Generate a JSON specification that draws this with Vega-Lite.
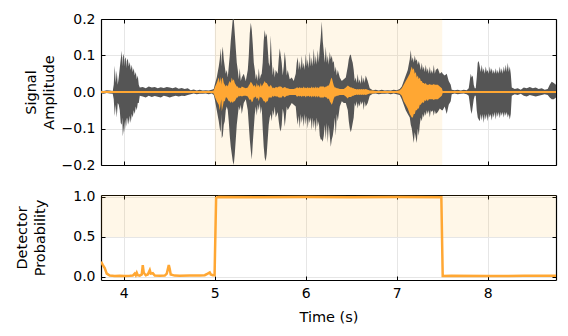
{
 "$schema": "https://vega.github.io/schema/vega-lite/v6.json",
 "padding": {"left": 14, "top": 12, "right": 10, "bottom": 5},
 "background": "white",
 "config": {
  "font": "DejaVu Sans",
  "view": {"stroke": null},
  "axis": {"labelFont": "DejaVu Sans", "labelFontSize": 14, "labelColor": "black", "titleFont": "DejaVu Sans", "titleFontSize": 14.5, "titleFontWeight": "normal", "titleColor": "black", "tickColor": "black", "tickSize": -4, "tickWidth": 1, "domain": true, "domainColor": "black", "domainWidth": 1.2, "gridColor": "#e6e6e6", "gridWidth": 1, "labelPadding": 10, "titleLineHeight": 18}
 },
 "spacing": 17,
 "datasets": {
  "wave": [
   {"t":3.75,"hi":0.004,"lo":-0.004,"oh":0.0025,"ol":-0.0025},
   {"t":3.78,"hi":0.003,"lo":-0.005,"oh":0.0025,"ol":-0.0025},
   {"t":3.813,"hi":0.005,"lo":-0.003,"oh":0.0025,"ol":-0.0025},
   {"t":3.846,"hi":0.004,"lo":-0.004,"oh":0.0025,"ol":-0.0025},
   {"t":3.879,"hi":0.003,"lo":-0.005,"oh":0.0025,"ol":-0.0025},
   {"t":3.89,"hi":0.02,"lo":-0.02,"oh":0.0025,"ol":-0.0025},
   {"t":3.901,"hi":0.072,"lo":-0.066,"oh":0.0025,"ol":-0.0025},
   {"t":3.912,"hi":0.025,"lo":-0.035,"oh":0.0025,"ol":-0.0025},
   {"t":3.923,"hi":0.058,"lo":-0.07,"oh":0.0025,"ol":-0.0025},
   {"t":3.934,"hi":0.02,"lo":-0.03,"oh":0.0025,"ol":-0.0025},
   {"t":3.945,"hi":0.04,"lo":-0.035,"oh":0.0025,"ol":-0.0025},
   {"t":3.956,"hi":0.065,"lo":-0.05,"oh":0.0025,"ol":-0.0025},
   {"t":3.967,"hi":0.09,"lo":-0.085,"oh":0.0025,"ol":-0.0025},
   {"t":3.978,"hi":0.113,"lo":-0.09,"oh":0.0025,"ol":-0.0025},
   {"t":3.984,"hi":0.07,"lo":-0.07,"oh":0.0025,"ol":-0.0025},
   {"t":3.989,"hi":0.095,"lo":-0.122,"oh":0.0025,"ol":-0.0025},
   {"t":4.0,"hi":0.105,"lo":-0.1,"oh":0.0025,"ol":-0.0025},
   {"t":4.006,"hi":0.07,"lo":-0.08,"oh":0.0025,"ol":-0.0025},
   {"t":4.011,"hi":0.09,"lo":-0.11,"oh":0.0025,"ol":-0.0025},
   {"t":4.022,"hi":0.095,"lo":-0.08,"oh":0.0025,"ol":-0.0025},
   {"t":4.028,"hi":0.065,"lo":-0.07,"oh":0.0025,"ol":-0.0025},
   {"t":4.033,"hi":0.085,"lo":-0.095,"oh":0.0025,"ol":-0.0025},
   {"t":4.044,"hi":0.092,"lo":-0.07,"oh":0.0025,"ol":-0.0025},
   {"t":4.055,"hi":0.07,"lo":-0.09,"oh":0.0025,"ol":-0.0025},
   {"t":4.066,"hi":0.082,"lo":-0.065,"oh":0.0025,"ol":-0.0025},
   {"t":4.077,"hi":0.06,"lo":-0.085,"oh":0.0025,"ol":-0.0025},
   {"t":4.088,"hi":0.075,"lo":-0.06,"oh":0.0025,"ol":-0.0025},
   {"t":4.099,"hi":0.055,"lo":-0.07,"oh":0.0025,"ol":-0.0025},
   {"t":4.11,"hi":0.065,"lo":-0.05,"oh":0.0025,"ol":-0.0025},
   {"t":4.121,"hi":0.045,"lo":-0.06,"oh":0.0025,"ol":-0.0025},
   {"t":4.132,"hi":0.055,"lo":-0.04,"oh":0.0025,"ol":-0.0025},
   {"t":4.143,"hi":0.035,"lo":-0.05,"oh":0.0025,"ol":-0.0025},
   {"t":4.154,"hi":0.045,"lo":-0.03,"oh":0.0025,"ol":-0.0025},
   {"t":4.165,"hi":0.02,"lo":-0.03,"oh":0.0025,"ol":-0.0025},
   {"t":4.176,"hi":0.012,"lo":-0.01,"oh":0.0025,"ol":-0.0025},
   {"t":4.209,"hi":0.014,"lo":-0.012,"oh":0.0025,"ol":-0.0025},
   {"t":4.242,"hi":0.01,"lo":-0.015,"oh":0.0025,"ol":-0.0025},
   {"t":4.275,"hi":0.015,"lo":-0.01,"oh":0.0025,"ol":-0.0025},
   {"t":4.308,"hi":0.012,"lo":-0.014,"oh":0.0025,"ol":-0.0025},
   {"t":4.341,"hi":0.014,"lo":-0.011,"oh":0.0025,"ol":-0.0025},
   {"t":4.374,"hi":0.01,"lo":-0.013,"oh":0.0025,"ol":-0.0025},
   {"t":4.407,"hi":0.013,"lo":-0.015,"oh":0.0025,"ol":-0.0025},
   {"t":4.44,"hi":0.011,"lo":-0.01,"oh":0.0025,"ol":-0.0025},
   {"t":4.473,"hi":0.014,"lo":-0.012,"oh":0.0025,"ol":-0.0025},
   {"t":4.505,"hi":0.012,"lo":-0.015,"oh":0.0025,"ol":-0.0025},
   {"t":4.538,"hi":0.01,"lo":-0.012,"oh":0.0025,"ol":-0.0025},
   {"t":4.571,"hi":0.013,"lo":-0.01,"oh":0.0025,"ol":-0.0025},
   {"t":4.604,"hi":0.009,"lo":-0.012,"oh":0.0025,"ol":-0.0025},
   {"t":4.637,"hi":0.011,"lo":-0.01,"oh":0.0025,"ol":-0.0025},
   {"t":4.67,"hi":0.008,"lo":-0.011,"oh":0.0025,"ol":-0.0025},
   {"t":4.703,"hi":0.01,"lo":-0.008,"oh":0.0025,"ol":-0.0025},
   {"t":4.736,"hi":0.005,"lo":-0.006,"oh":0.0025,"ol":-0.0025},
   {"t":4.769,"hi":0.007,"lo":-0.004,"oh":0.0025,"ol":-0.0025},
   {"t":4.802,"hi":0.004,"lo":-0.006,"oh":0.0025,"ol":-0.0025},
   {"t":4.835,"hi":0.006,"lo":-0.005,"oh":0.0025,"ol":-0.0025},
   {"t":4.868,"hi":0.004,"lo":-0.005,"oh":0.0025,"ol":-0.0025},
   {"t":4.901,"hi":0.005,"lo":-0.004,"oh":0.0025,"ol":-0.0025},
   {"t":4.934,"hi":0.004,"lo":-0.006,"oh":0.0025,"ol":-0.0025},
   {"t":4.967,"hi":0.006,"lo":-0.004,"oh":0.0025,"ol":-0.0025},
   {"t":4.989,"hi":0.008,"lo":-0.008,"oh":0.004,"ol":-0.004},
   {"t":5.0,"hi":0.02,"lo":-0.02,"oh":0.012,"ol":-0.012},
   {"t":5.022,"hi":0.04,"lo":-0.05,"oh":0.025,"ol":-0.025},
   {"t":5.044,"hi":0.07,"lo":-0.08,"oh":0.04,"ol":-0.035},
   {"t":5.055,"hi":0.09,"lo":-0.1,"oh":0.025,"ol":-0.05},
   {"t":5.066,"hi":0.12,"lo":-0.11,"oh":0.042,"ol":-0.03},
   {"t":5.072,"hi":0.07,"lo":-0.06,"oh":0.02,"ol":-0.02},
   {"t":5.077,"hi":0.1,"lo":-0.127,"oh":0.035,"ol":-0.053},
   {"t":5.088,"hi":0.125,"lo":-0.12,"oh":0.04,"ol":-0.04},
   {"t":5.099,"hi":0.09,"lo":-0.09,"oh":0.025,"ol":-0.025},
   {"t":5.11,"hi":0.07,"lo":-0.08,"oh":0.02,"ol":-0.025},
   {"t":5.121,"hi":0.05,"lo":-0.05,"oh":0.015,"ol":-0.015},
   {"t":5.132,"hi":0.06,"lo":-0.04,"oh":0.02,"ol":-0.015},
   {"t":5.143,"hi":0.04,"lo":-0.05,"oh":0.015,"ol":-0.02},
   {"t":5.154,"hi":0.07,"lo":-0.08,"oh":0.025,"ol":-0.025},
   {"t":5.165,"hi":0.1,"lo":-0.12,"oh":0.03,"ol":-0.025},
   {"t":5.176,"hi":0.14,"lo":-0.15,"oh":0.025,"ol":-0.03},
   {"t":5.187,"hi":0.17,"lo":-0.17,"oh":0.04,"ol":-0.025},
   {"t":5.198,"hi":0.2,"lo":-0.19,"oh":0.03,"ol":-0.03},
   {"t":5.209,"hi":0.2,"lo":-0.2,"oh":0.035,"ol":-0.025},
   {"t":5.22,"hi":0.16,"lo":-0.17,"oh":0.025,"ol":-0.025},
   {"t":5.231,"hi":0.12,"lo":-0.13,"oh":0.02,"ol":-0.02},
   {"t":5.242,"hi":0.08,"lo":-0.09,"oh":0.015,"ol":-0.015},
   {"t":5.253,"hi":0.06,"lo":-0.065,"oh":0.015,"ol":-0.015},
   {"t":5.264,"hi":0.035,"lo":-0.04,"oh":0.01,"ol":-0.01},
   {"t":5.275,"hi":0.065,"lo":-0.05,"oh":0.012,"ol":-0.012},
   {"t":5.286,"hi":0.03,"lo":-0.035,"oh":0.01,"ol":-0.01},
   {"t":5.297,"hi":0.04,"lo":-0.06,"oh":0.015,"ol":-0.012},
   {"t":5.319,"hi":0.05,"lo":-0.03,"oh":0.012,"ol":-0.01},
   {"t":5.341,"hi":0.03,"lo":-0.02,"oh":0.01,"ol":-0.01},
   {"t":5.363,"hi":0.06,"lo":-0.05,"oh":0.012,"ol":-0.012},
   {"t":5.374,"hi":0.1,"lo":-0.09,"oh":0.018,"ol":-0.018},
   {"t":5.385,"hi":0.16,"lo":-0.13,"oh":0.022,"ol":-0.022},
   {"t":5.396,"hi":0.19,"lo":-0.16,"oh":0.028,"ol":-0.02},
   {"t":5.407,"hi":0.17,"lo":-0.185,"oh":0.025,"ol":-0.028},
   {"t":5.418,"hi":0.13,"lo":-0.14,"oh":0.02,"ol":-0.025},
   {"t":5.429,"hi":0.08,"lo":-0.1,"oh":0.015,"ol":-0.015},
   {"t":5.44,"hi":0.06,"lo":-0.06,"oh":0.02,"ol":-0.015},
   {"t":5.451,"hi":0.035,"lo":-0.04,"oh":0.012,"ol":-0.012},
   {"t":5.462,"hi":0.05,"lo":-0.065,"oh":0.025,"ol":-0.02},
   {"t":5.473,"hi":0.03,"lo":-0.035,"oh":0.015,"ol":-0.015},
   {"t":5.484,"hi":0.065,"lo":-0.05,"oh":0.02,"ol":-0.025},
   {"t":5.495,"hi":0.035,"lo":-0.03,"oh":0.012,"ol":-0.012},
   {"t":5.505,"hi":0.045,"lo":-0.06,"oh":0.025,"ol":-0.015},
   {"t":5.516,"hi":0.05,"lo":-0.04,"oh":0.015,"ol":-0.015},
   {"t":5.527,"hi":0.08,"lo":-0.1,"oh":0.02,"ol":-0.02},
   {"t":5.538,"hi":0.14,"lo":-0.15,"oh":0.025,"ol":-0.025},
   {"t":5.549,"hi":0.17,"lo":-0.18,"oh":0.03,"ol":-0.025},
   {"t":5.56,"hi":0.15,"lo":-0.19,"oh":0.025,"ol":-0.03},
   {"t":5.571,"hi":0.16,"lo":-0.17,"oh":0.025,"ol":-0.025},
   {"t":5.582,"hi":0.12,"lo":-0.13,"oh":0.02,"ol":-0.025},
   {"t":5.593,"hi":0.08,"lo":-0.09,"oh":0.015,"ol":-0.015},
   {"t":5.604,"hi":0.07,"lo":-0.07,"oh":0.015,"ol":-0.015},
   {"t":5.615,"hi":0.155,"lo":-0.06,"oh":0.02,"ol":-0.015},
   {"t":5.626,"hi":0.09,"lo":-0.08,"oh":0.015,"ol":-0.015},
   {"t":5.637,"hi":0.045,"lo":-0.05,"oh":0.01,"ol":-0.01},
   {"t":5.648,"hi":0.07,"lo":-0.065,"oh":0.012,"ol":-0.014},
   {"t":5.659,"hi":0.04,"lo":-0.04,"oh":0.01,"ol":-0.01},
   {"t":5.67,"hi":0.06,"lo":-0.07,"oh":0.014,"ol":-0.012},
   {"t":5.692,"hi":0.05,"lo":-0.055,"oh":0.012,"ol":-0.012},
   {"t":5.703,"hi":0.09,"lo":-0.08,"oh":0.015,"ol":-0.015},
   {"t":5.714,"hi":0.12,"lo":-0.1,"oh":0.015,"ol":-0.015},
   {"t":5.725,"hi":0.1,"lo":-0.108,"oh":0.015,"ol":-0.015},
   {"t":5.736,"hi":0.08,"lo":-0.09,"oh":0.014,"ol":-0.015},
   {"t":5.747,"hi":0.045,"lo":-0.045,"oh":0.01,"ol":-0.01},
   {"t":5.758,"hi":0.07,"lo":-0.06,"oh":0.012,"ol":-0.012},
   {"t":5.769,"hi":0.11,"lo":-0.095,"oh":0.014,"ol":-0.015},
   {"t":5.78,"hi":0.085,"lo":-0.07,"oh":0.012,"ol":-0.012},
   {"t":5.791,"hi":0.045,"lo":-0.04,"oh":0.01,"ol":-0.01},
   {"t":5.802,"hi":0.06,"lo":-0.05,"oh":0.01,"ol":-0.01},
   {"t":5.824,"hi":0.035,"lo":-0.04,"oh":0.008,"ol":-0.008},
   {"t":5.846,"hi":0.04,"lo":-0.03,"oh":0.008,"ol":-0.008},
   {"t":5.868,"hi":0.03,"lo":-0.035,"oh":0.008,"ol":-0.008},
   {"t":5.89,"hi":0.05,"lo":-0.04,"oh":0.01,"ol":-0.008},
   {"t":5.901,"hi":0.08,"lo":-0.07,"oh":0.012,"ol":-0.012},
   {"t":5.912,"hi":0.095,"lo":-0.09,"oh":0.012,"ol":-0.012},
   {"t":5.923,"hi":0.06,"lo":-0.065,"oh":0.01,"ol":-0.01},
   {"t":5.934,"hi":0.085,"lo":-0.1,"oh":0.014,"ol":-0.012},
   {"t":5.945,"hi":0.06,"lo":-0.06,"oh":0.01,"ol":-0.01},
   {"t":5.956,"hi":0.1,"lo":-0.085,"oh":0.012,"ol":-0.014},
   {"t":5.967,"hi":0.065,"lo":-0.065,"oh":0.01,"ol":-0.01},
   {"t":5.978,"hi":0.08,"lo":-0.095,"oh":0.015,"ol":-0.012},
   {"t":5.989,"hi":0.06,"lo":-0.06,"oh":0.01,"ol":-0.01},
   {"t":6.0,"hi":0.105,"lo":-0.09,"oh":0.012,"ol":-0.015},
   {"t":6.011,"hi":0.07,"lo":-0.065,"oh":0.01,"ol":-0.01},
   {"t":6.022,"hi":0.09,"lo":-0.1,"oh":0.014,"ol":-0.012},
   {"t":6.033,"hi":0.065,"lo":-0.07,"oh":0.01,"ol":-0.01},
   {"t":6.044,"hi":0.11,"lo":-0.085,"oh":0.012,"ol":-0.014},
   {"t":6.055,"hi":0.07,"lo":-0.07,"oh":0.01,"ol":-0.01},
   {"t":6.066,"hi":0.095,"lo":-0.105,"oh":0.015,"ol":-0.015},
   {"t":6.077,"hi":0.07,"lo":-0.07,"oh":0.01,"ol":-0.01},
   {"t":6.088,"hi":0.12,"lo":-0.1,"oh":0.014,"ol":-0.014},
   {"t":6.099,"hi":0.075,"lo":-0.075,"oh":0.01,"ol":-0.01},
   {"t":6.11,"hi":0.1,"lo":-0.11,"oh":0.015,"ol":-0.015},
   {"t":6.121,"hi":0.075,"lo":-0.07,"oh":0.01,"ol":-0.01},
   {"t":6.132,"hi":0.115,"lo":-0.095,"oh":0.014,"ol":-0.015},
   {"t":6.143,"hi":0.08,"lo":-0.08,"oh":0.01,"ol":-0.01},
   {"t":6.154,"hi":0.12,"lo":-0.12,"oh":0.015,"ol":-0.015},
   {"t":6.165,"hi":0.15,"lo":-0.13,"oh":0.015,"ol":-0.015},
   {"t":6.176,"hi":0.193,"lo":-0.13,"oh":0.015,"ol":-0.015},
   {"t":6.187,"hi":0.14,"lo":-0.136,"oh":0.015,"ol":-0.015},
   {"t":6.198,"hi":0.11,"lo":-0.12,"oh":0.015,"ol":-0.015},
   {"t":6.209,"hi":0.08,"lo":-0.09,"oh":0.012,"ol":-0.012},
   {"t":6.22,"hi":0.125,"lo":-0.13,"oh":0.015,"ol":-0.015},
   {"t":6.231,"hi":0.08,"lo":-0.085,"oh":0.015,"ol":-0.015},
   {"t":6.242,"hi":0.1,"lo":-0.14,"oh":0.018,"ol":-0.02},
   {"t":6.253,"hi":0.075,"lo":-0.09,"oh":0.018,"ol":-0.018},
   {"t":6.264,"hi":0.11,"lo":-0.12,"oh":0.025,"ol":-0.025},
   {"t":6.275,"hi":0.09,"lo":-0.15,"oh":0.035,"ol":-0.03},
   {"t":6.286,"hi":0.1,"lo":-0.13,"oh":0.04,"ol":-0.035},
   {"t":6.297,"hi":0.08,"lo":-0.12,"oh":0.028,"ol":-0.028},
   {"t":6.308,"hi":0.085,"lo":-0.1,"oh":0.018,"ol":-0.018},
   {"t":6.319,"hi":0.055,"lo":-0.07,"oh":0.012,"ol":-0.012},
   {"t":6.33,"hi":0.07,"lo":-0.12,"oh":0.012,"ol":-0.012},
   {"t":6.341,"hi":0.045,"lo":-0.06,"oh":0.01,"ol":-0.01},
   {"t":6.352,"hi":0.06,"lo":-0.08,"oh":0.01,"ol":-0.01},
   {"t":6.374,"hi":0.04,"lo":-0.04,"oh":0.008,"ol":-0.008},
   {"t":6.396,"hi":0.03,"lo":-0.025,"oh":0.008,"ol":-0.008},
   {"t":6.418,"hi":0.035,"lo":-0.03,"oh":0.008,"ol":-0.008},
   {"t":6.44,"hi":0.04,"lo":-0.03,"oh":0.012,"ol":-0.012},
   {"t":6.462,"hi":0.07,"lo":-0.05,"oh":0.018,"ol":-0.018},
   {"t":6.473,"hi":0.09,"lo":-0.08,"oh":0.016,"ol":-0.014},
   {"t":6.484,"hi":0.1,"lo":-0.1,"oh":0.014,"ol":-0.014},
   {"t":6.495,"hi":0.103,"lo":-0.11,"oh":0.012,"ol":-0.014},
   {"t":6.505,"hi":0.09,"lo":-0.1,"oh":0.012,"ol":-0.012},
   {"t":6.516,"hi":0.08,"lo":-0.085,"oh":0.01,"ol":-0.01},
   {"t":6.527,"hi":0.06,"lo":-0.07,"oh":0.01,"ol":-0.01},
   {"t":6.538,"hi":0.03,"lo":-0.03,"oh":0.008,"ol":-0.008},
   {"t":6.549,"hi":0.04,"lo":-0.04,"oh":0.008,"ol":-0.008},
   {"t":6.56,"hi":0.025,"lo":-0.025,"oh":0.007,"ol":-0.007},
   {"t":6.571,"hi":0.05,"lo":-0.045,"oh":0.008,"ol":-0.008},
   {"t":6.582,"hi":0.025,"lo":-0.03,"oh":0.007,"ol":-0.007},
   {"t":6.593,"hi":0.035,"lo":-0.04,"oh":0.008,"ol":-0.008},
   {"t":6.604,"hi":0.022,"lo":-0.025,"oh":0.007,"ol":-0.007},
   {"t":6.615,"hi":0.048,"lo":-0.035,"oh":0.008,"ol":-0.008},
   {"t":6.626,"hi":0.025,"lo":-0.025,"oh":0.007,"ol":-0.007},
   {"t":6.637,"hi":0.04,"lo":-0.05,"oh":0.008,"ol":-0.008},
   {"t":6.648,"hi":0.025,"lo":-0.025,"oh":0.007,"ol":-0.007},
   {"t":6.659,"hi":0.045,"lo":-0.04,"oh":0.008,"ol":-0.008},
   {"t":6.681,"hi":0.03,"lo":-0.03,"oh":0.006,"ol":-0.006},
   {"t":6.703,"hi":0.01,"lo":-0.01,"oh":0.004,"ol":-0.004},
   {"t":6.736,"hi":0.005,"lo":-0.005,"oh":0.004,"ol":-0.004},
   {"t":6.769,"hi":0.006,"lo":-0.004,"oh":0.003,"ol":-0.003},
   {"t":6.802,"hi":0.004,"lo":-0.006,"oh":0.003,"ol":-0.003},
   {"t":6.835,"hi":0.006,"lo":-0.005,"oh":0.003,"ol":-0.003},
   {"t":6.868,"hi":0.004,"lo":-0.005,"oh":0.003,"ol":-0.003},
   {"t":6.901,"hi":0.005,"lo":-0.004,"oh":0.003,"ol":-0.003},
   {"t":6.934,"hi":0.004,"lo":-0.006,"oh":0.003,"ol":-0.003},
   {"t":6.967,"hi":0.006,"lo":-0.004,"oh":0.003,"ol":-0.003},
   {"t":7.0,"hi":0.005,"lo":-0.006,"oh":0.003,"ol":-0.003},
   {"t":7.033,"hi":0.008,"lo":-0.008,"oh":0.005,"ol":-0.005},
   {"t":7.055,"hi":0.015,"lo":-0.02,"oh":0.01,"ol":-0.01},
   {"t":7.077,"hi":0.03,"lo":-0.035,"oh":0.02,"ol":-0.025},
   {"t":7.099,"hi":0.045,"lo":-0.05,"oh":0.03,"ol":-0.035},
   {"t":7.121,"hi":0.06,"lo":-0.06,"oh":0.04,"ol":-0.045},
   {"t":7.143,"hi":0.09,"lo":-0.07,"oh":0.05,"ol":-0.06},
   {"t":7.154,"hi":0.115,"lo":-0.09,"oh":0.06,"ol":-0.065},
   {"t":7.165,"hi":0.085,"lo":-0.1,"oh":0.07,"ol":-0.07},
   {"t":7.176,"hi":0.095,"lo":-0.12,"oh":0.06,"ol":-0.07},
   {"t":7.187,"hi":0.08,"lo":-0.14,"oh":0.065,"ol":-0.06},
   {"t":7.198,"hi":0.1,"lo":-0.11,"oh":0.05,"ol":-0.06},
   {"t":7.209,"hi":0.085,"lo":-0.125,"oh":0.055,"ol":-0.05},
   {"t":7.22,"hi":0.09,"lo":-0.14,"oh":0.04,"ol":-0.05},
   {"t":7.231,"hi":0.075,"lo":-0.1,"oh":0.045,"ol":-0.045},
   {"t":7.242,"hi":0.085,"lo":-0.12,"oh":0.035,"ol":-0.045},
   {"t":7.253,"hi":0.075,"lo":-0.09,"oh":0.04,"ol":-0.035},
   {"t":7.264,"hi":0.06,"lo":-0.07,"oh":0.03,"ol":-0.035},
   {"t":7.275,"hi":0.08,"lo":-0.08,"oh":0.03,"ol":-0.03},
   {"t":7.286,"hi":0.06,"lo":-0.06,"oh":0.025,"ol":-0.028},
   {"t":7.297,"hi":0.07,"lo":-0.07,"oh":0.025,"ol":-0.03},
   {"t":7.308,"hi":0.055,"lo":-0.055,"oh":0.022,"ol":-0.022},
   {"t":7.319,"hi":0.075,"lo":-0.065,"oh":0.025,"ol":-0.025},
   {"t":7.33,"hi":0.055,"lo":-0.05,"oh":0.02,"ol":-0.02},
   {"t":7.341,"hi":0.065,"lo":-0.06,"oh":0.02,"ol":-0.025},
   {"t":7.352,"hi":0.05,"lo":-0.05,"oh":0.02,"ol":-0.02},
   {"t":7.363,"hi":0.07,"lo":-0.07,"oh":0.022,"ol":-0.02},
   {"t":7.374,"hi":0.05,"lo":-0.05,"oh":0.02,"ol":-0.02},
   {"t":7.385,"hi":0.06,"lo":-0.055,"oh":0.02,"ol":-0.02},
   {"t":7.396,"hi":0.05,"lo":-0.05,"oh":0.02,"ol":-0.02},
   {"t":7.407,"hi":0.075,"lo":-0.065,"oh":0.022,"ol":-0.022},
   {"t":7.418,"hi":0.05,"lo":-0.05,"oh":0.02,"ol":-0.02},
   {"t":7.429,"hi":0.06,"lo":-0.06,"oh":0.02,"ol":-0.02},
   {"t":7.451,"hi":0.065,"lo":-0.055,"oh":0.02,"ol":-0.02},
   {"t":7.473,"hi":0.05,"lo":-0.045,"oh":0.015,"ol":-0.015},
   {"t":7.495,"hi":0.055,"lo":-0.05,"oh":0.01,"ol":-0.01},
   {"t":7.505,"hi":0.05,"lo":-0.05,"oh":0.0025,"ol":-0.0025},
   {"t":7.527,"hi":0.045,"lo":-0.04,"oh":0.0025,"ol":-0.0025},
   {"t":7.549,"hi":0.05,"lo":-0.06,"oh":0.0025,"ol":-0.0025},
   {"t":7.571,"hi":0.03,"lo":-0.035,"oh":0.0025,"ol":-0.0025},
   {"t":7.593,"hi":0.02,"lo":-0.025,"oh":0.0025,"ol":-0.0025},
   {"t":7.604,"hi":0.006,"lo":-0.006,"oh":0.0025,"ol":-0.0025},
   {"t":7.637,"hi":0.005,"lo":-0.004,"oh":0.0025,"ol":-0.0025},
   {"t":7.67,"hi":0.006,"lo":-0.006,"oh":0.0025,"ol":-0.0025},
   {"t":7.703,"hi":0.004,"lo":-0.005,"oh":0.0025,"ol":-0.0025},
   {"t":7.736,"hi":0.006,"lo":-0.004,"oh":0.0025,"ol":-0.0025},
   {"t":7.769,"hi":0.005,"lo":-0.006,"oh":0.0025,"ol":-0.0025},
   {"t":7.791,"hi":0.01,"lo":-0.01,"oh":0.0025,"ol":-0.0025},
   {"t":7.802,"hi":0.03,"lo":-0.03,"oh":0.0025,"ol":-0.0025},
   {"t":7.813,"hi":0.05,"lo":-0.05,"oh":0.0025,"ol":-0.0025},
   {"t":7.824,"hi":0.04,"lo":-0.06,"oh":0.0025,"ol":-0.0025},
   {"t":7.835,"hi":0.045,"lo":-0.04,"oh":0.0025,"ol":-0.0025},
   {"t":7.846,"hi":0.02,"lo":-0.02,"oh":0.0025,"ol":-0.0025},
   {"t":7.857,"hi":0.01,"lo":-0.01,"oh":0.0025,"ol":-0.0025},
   {"t":7.868,"hi":0.01,"lo":-0.01,"oh":0.0025,"ol":-0.0025},
   {"t":7.879,"hi":0.04,"lo":-0.05,"oh":0.0025,"ol":-0.0025},
   {"t":7.89,"hi":0.08,"lo":-0.07,"oh":0.0025,"ol":-0.0025},
   {"t":7.901,"hi":0.085,"lo":-0.075,"oh":0.0025,"ol":-0.0025},
   {"t":7.912,"hi":0.07,"lo":-0.08,"oh":0.0025,"ol":-0.0025},
   {"t":7.923,"hi":0.055,"lo":-0.06,"oh":0.0025,"ol":-0.0025},
   {"t":7.934,"hi":0.075,"lo":-0.078,"oh":0.0025,"ol":-0.0025},
   {"t":7.945,"hi":0.055,"lo":-0.06,"oh":0.0025,"ol":-0.0025},
   {"t":7.956,"hi":0.065,"lo":-0.085,"oh":0.0025,"ol":-0.0025},
   {"t":7.967,"hi":0.05,"lo":-0.06,"oh":0.0025,"ol":-0.0025},
   {"t":7.978,"hi":0.07,"lo":-0.075,"oh":0.0025,"ol":-0.0025},
   {"t":7.989,"hi":0.055,"lo":-0.06,"oh":0.0025,"ol":-0.0025},
   {"t":8.0,"hi":0.06,"lo":-0.08,"oh":0.0025,"ol":-0.0025},
   {"t":8.011,"hi":0.05,"lo":-0.058,"oh":0.0025,"ol":-0.0025},
   {"t":8.022,"hi":0.07,"lo":-0.07,"oh":0.0025,"ol":-0.0025},
   {"t":8.033,"hi":0.055,"lo":-0.06,"oh":0.0025,"ol":-0.0025},
   {"t":8.044,"hi":0.065,"lo":-0.078,"oh":0.0025,"ol":-0.0025},
   {"t":8.055,"hi":0.05,"lo":-0.058,"oh":0.0025,"ol":-0.0025},
   {"t":8.066,"hi":0.06,"lo":-0.07,"oh":0.0025,"ol":-0.0025},
   {"t":8.077,"hi":0.05,"lo":-0.055,"oh":0.0025,"ol":-0.0025},
   {"t":8.088,"hi":0.065,"lo":-0.075,"oh":0.0025,"ol":-0.0025},
   {"t":8.099,"hi":0.05,"lo":-0.055,"oh":0.0025,"ol":-0.0025},
   {"t":8.11,"hi":0.06,"lo":-0.068,"oh":0.0025,"ol":-0.0025},
   {"t":8.121,"hi":0.05,"lo":-0.055,"oh":0.0025,"ol":-0.0025},
   {"t":8.132,"hi":0.07,"lo":-0.072,"oh":0.0025,"ol":-0.0025},
   {"t":8.143,"hi":0.052,"lo":-0.055,"oh":0.0025,"ol":-0.0025},
   {"t":8.154,"hi":0.065,"lo":-0.065,"oh":0.0025,"ol":-0.0025},
   {"t":8.165,"hi":0.05,"lo":-0.055,"oh":0.0025,"ol":-0.0025},
   {"t":8.176,"hi":0.07,"lo":-0.07,"oh":0.0025,"ol":-0.0025},
   {"t":8.187,"hi":0.055,"lo":-0.055,"oh":0.0025,"ol":-0.0025},
   {"t":8.198,"hi":0.075,"lo":-0.065,"oh":0.0025,"ol":-0.0025},
   {"t":8.209,"hi":0.055,"lo":-0.055,"oh":0.0025,"ol":-0.0025},
   {"t":8.22,"hi":0.08,"lo":-0.07,"oh":0.0025,"ol":-0.0025},
   {"t":8.231,"hi":0.055,"lo":-0.06,"oh":0.0025,"ol":-0.0025},
   {"t":8.242,"hi":0.07,"lo":-0.075,"oh":0.0025,"ol":-0.0025},
   {"t":8.253,"hi":0.05,"lo":-0.06,"oh":0.0025,"ol":-0.0025},
   {"t":8.264,"hi":0.012,"lo":-0.01,"oh":0.0025,"ol":-0.0025},
   {"t":8.297,"hi":0.008,"lo":-0.006,"oh":0.0025,"ol":-0.0025},
   {"t":8.33,"hi":0.01,"lo":-0.008,"oh":0.0025,"ol":-0.0025},
   {"t":8.363,"hi":0.006,"lo":-0.005,"oh":0.0025,"ol":-0.0025},
   {"t":8.396,"hi":0.012,"lo":-0.01,"oh":0.0025,"ol":-0.0025},
   {"t":8.429,"hi":0.01,"lo":-0.012,"oh":0.0025,"ol":-0.0025},
   {"t":8.462,"hi":0.014,"lo":-0.008,"oh":0.0025,"ol":-0.0025},
   {"t":8.495,"hi":0.01,"lo":-0.01,"oh":0.0025,"ol":-0.0025},
   {"t":8.527,"hi":0.012,"lo":-0.012,"oh":0.0025,"ol":-0.0025},
   {"t":8.56,"hi":0.008,"lo":-0.01,"oh":0.0025,"ol":-0.0025},
   {"t":8.593,"hi":0.01,"lo":-0.008,"oh":0.0025,"ol":-0.0025},
   {"t":8.626,"hi":0.006,"lo":-0.006,"oh":0.0025,"ol":-0.0025},
   {"t":8.659,"hi":0.008,"lo":-0.008,"oh":0.0025,"ol":-0.0025},
   {"t":8.681,"hi":0.02,"lo":-0.015,"oh":0.0025,"ol":-0.0025},
   {"t":8.703,"hi":0.028,"lo":-0.02,"oh":0.0025,"ol":-0.0025},
   {"t":8.725,"hi":0.025,"lo":-0.02,"oh":0.0025,"ol":-0.0025},
   {"t":8.75,"hi":0.02,"lo":-0.015,"oh":0.0025,"ol":-0.0025}
  ],
  "prob": [
   {"t":3.75,"p":0.19},{"t":3.769,"p":0.15},{"t":3.791,"p":0.11},{"t":3.813,"p":0.04},{"t":3.846,"p":0.015},
   {"t":3.901,"p":0.01},{"t":3.956,"p":0.012},{"t":4.011,"p":0.01},{"t":4.066,"p":0.012},{"t":4.099,"p":0.015},
   {"t":4.121,"p":0.04},{"t":4.132,"p":0.02},{"t":4.143,"p":0.05},{"t":4.154,"p":0.02},{"t":4.176,"p":0.015},
   {"t":4.198,"p":0.03},{"t":4.209,"p":0.146},{"t":4.22,"p":0.05},{"t":4.242,"p":0.02},{"t":4.264,"p":0.03},
   {"t":4.286,"p":0.084},{"t":4.297,"p":0.04},{"t":4.319,"p":0.045},{"t":4.341,"p":0.015},{"t":4.396,"p":0.012},
   {"t":4.451,"p":0.015},{"t":4.473,"p":0.04},{"t":4.495,"p":0.146},{"t":4.505,"p":0.1},{"t":4.516,"p":0.03},
   {"t":4.56,"p":0.015},{"t":4.615,"p":0.012},{"t":4.725,"p":0.015},{"t":4.835,"p":0.015},{"t":4.89,"p":0.02},
   {"t":4.923,"p":0.04},{"t":4.945,"p":0.055},{"t":4.956,"p":0.03},{"t":4.978,"p":0.02},{"t":4.998,"p":0.02},
   {"t":5.015,"p":0.99},{"t":5.04,"p":1.0},{"t":5.5,"p":0.998},{"t":6.0,"p":0.999},{"t":6.5,"p":0.998},{"t":7.0,"p":0.999},
   {"t":7.49,"p":0.998},{"t":7.505,"p":0.01},{"t":7.6,"p":0.012},{"t":8.0,"p":0.01},{"t":8.4,"p":0.012},{"t":8.75,"p":0.012}
  ]
 },
 "vconcat": [
  {
   "width": 455, "height": 146,
   "resolve": {"axis": {"x": "independent", "y": "independent"}},
   "layer": [
    {
     "data": {"values": [{"a": 5, "b": 7.5}]},
     "mark": {"type": "rect", "color": "#FFA500", "opacity": 0.09},
     "encoding": {
      "x": {"field": "a", "type": "quantitative", "scale": {"domain": [3.75, 8.75], "nice": false, "zero": false},
            "axis": {"orient": "bottom", "values": [4, 5, 6, 7, 8], "labels": false, "title": null, "grid": true}},
      "x2": {"field": "b"},
      "y": {"datum": -0.2, "type": "quantitative", "scale": {"domain": [-0.2, 0.2], "nice": false, "zero": false},
            "axis": {"orient": "left", "values": [-0.2, -0.1, 0, 0.1, 0.2], "format": ".1f", "title": ["Signal", "Amplitude"], "titlePadding": 5, "grid": true}},
      "y2": {"datum": 0.2}
     }
    },
    {
     "data": {"name": "wave"},
     "mark": {"type": "area", "color": "#555555", "clip": true},
     "encoding": {
      "x": {"field": "t", "type": "quantitative", "scale": {"domain": [3.75, 8.75], "nice": false, "zero": false},
            "axis": {"orient": "top", "values": [4, 5, 6, 7, 8], "labels": false, "title": null, "grid": false}},
      "y": {"field": "hi", "type": "quantitative", "scale": {"domain": [-0.2, 0.2], "nice": false, "zero": false},
            "axis": {"orient": "right", "values": [-0.2, -0.1, 0, 0.1, 0.2], "labels": false, "title": null, "grid": false}},
      "y2": {"field": "lo"}
     }
    },
    {
     "data": {"name": "wave"},
     "mark": {"type": "area", "color": "#FFA733", "clip": true},
     "encoding": {
      "x": {"field": "t", "type": "quantitative", "scale": {"domain": [3.75, 8.75], "nice": false, "zero": false}, "axis": null},
      "y": {"field": "oh", "type": "quantitative", "scale": {"domain": [-0.2, 0.2], "nice": false, "zero": false}, "axis": null},
      "y2": {"field": "ol"}
     }
    }
   ]
  },
  {
   "width": 455, "height": 85,
   "resolve": {"axis": {"x": "independent", "y": "independent"}},
   "layer": [
    {
     "data": {"values": [{"a": 3.75, "b": 8.75, "c": 0.5, "d": 1.025}]},
     "mark": {"type": "rect", "color": "#FFA500", "opacity": 0.09},
     "encoding": {
      "x": {"field": "a", "type": "quantitative", "scale": {"domain": [3.75, 8.75], "nice": false, "zero": false},
            "axis": {"orient": "bottom", "values": [4, 5, 6, 7, 8], "format": "d", "title": "Time (s)", "titlePadding": 10, "grid": true}},
      "x2": {"field": "b"},
      "y": {"field": "c", "type": "quantitative", "scale": {"domain": [-0.04, 1.025], "nice": false, "zero": false},
            "axis": {"orient": "left", "values": [0, 0.5, 1], "format": ".1f", "title": ["Detector", "Probability"], "titlePadding": 25, "grid": true}},
      "y2": {"field": "d"}
     }
    },
    {
     "data": {"name": "prob"},
     "mark": {"type": "line", "color": "#FFA733", "strokeWidth": 2.5, "clip": true},
     "encoding": {
      "x": {"field": "t", "type": "quantitative", "scale": {"domain": [3.75, 8.75], "nice": false, "zero": false},
            "axis": {"orient": "top", "values": [4, 5, 6, 7, 8], "labels": false, "title": null, "grid": false}},
      "y": {"field": "p", "type": "quantitative", "scale": {"domain": [-0.04, 1.025], "nice": false, "zero": false},
            "axis": {"orient": "right", "values": [0, 0.5, 1], "labels": false, "title": null, "grid": false}}
     }
    }
   ]
  }
 ]
}
